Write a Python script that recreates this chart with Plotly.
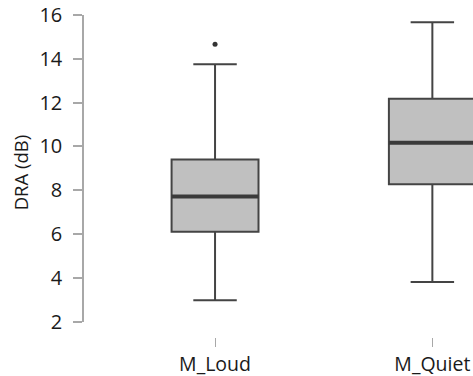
import plotly.graph_objects as go

# Summary statistics per condition (dB)
categories = ["M_Loud", "M_Quiet"]
q1 = [6.11, 8.27]
median = [7.72, 10.17]
q3 = [9.40, 12.18]
lower_fence = [2.98, 3.81]
upper_fence = [13.75, 15.67]
outlier_cat = [0]
outlier_val = [14.66]

y_ticks = [2, 4, 6, 8, 10, 12, 14, 16]

positions = list(range(len(categories)))
box_width = 0.4
line_col = "#444444"
fill_col = "#c0c0c0"
axis_col = "#a8a8a8"
text_col = "#1a1a1a"
font_family = "Open Sans"

fig = go.Figure()

fig.add_trace(go.Box(
    x=positions,
    q1=q1,
    median=median,
    q3=q3,
    lowerfence=lower_fence,
    upperfence=upper_fence,
    width=box_width,
    whiskerwidth=0.5,
    fillcolor=fill_col,
    line=dict(color=line_col, width=2),
    boxpoints=False,
    hoverinfo="skip",
    showlegend=False,
))

# Heavier median bars drawn over the boxes
for p, m in zip(positions, median):
    fig.add_trace(go.Scatter(
        x=[p - box_width / 2, p + box_width / 2],
        y=[m, m],
        mode="lines",
        line=dict(color="#3a3a3a", width=4),
        hoverinfo="skip",
        showlegend=False,
    ))

fig.add_trace(go.Scatter(
    x=outlier_cat,
    y=outlier_val,
    mode="markers",
    marker=dict(color="#333333", size=5),
    hoverinfo="skip",
    showlegend=False,
))

fig.update_layout(
    width=473,
    height=376,
    margin=dict(l=84, r=0, t=15, b=39),
    paper_bgcolor="white",
    plot_bgcolor="white",
    font=dict(family=font_family, size=19, color=text_col),
    xaxis=dict(
        range=[-0.603, 1.187],
        tickmode="array",
        tickvals=positions,
        ticktext=categories,
        ticks="outside",
        ticklen=9,
        tickwidth=1,
        tickcolor=axis_col,
        tickfont=dict(size=19.5),
        showline=False,
        showgrid=False,
        zeroline=False,
        anchor="free",
        position=0,
        ticklabelstandoff=1,
    ),
    yaxis=dict(
        range=[2, 16],
        domain=[0.0475, 1],
        tickmode="array",
        tickvals=y_ticks,
        ticks="outside",
        ticklen=9,
        tickwidth=1.5,
        tickcolor=axis_col,
        tickfont=dict(size=20),
        showline=True,
        linecolor=axis_col,
        linewidth=1.5,
        showgrid=False,
        zeroline=False,
        ticklabelstandoff=7,
    ),
    annotations=[dict(
        text="DRA (dB)",
        xref="paper", yref="paper",
        x=-0.163, y=0.51,
        xanchor="center", yanchor="middle",
        textangle=-90,
        showarrow=False,
        font=dict(family=font_family, size=18.5, color=text_col),
    )],
)

fig.write_html("out.html")
